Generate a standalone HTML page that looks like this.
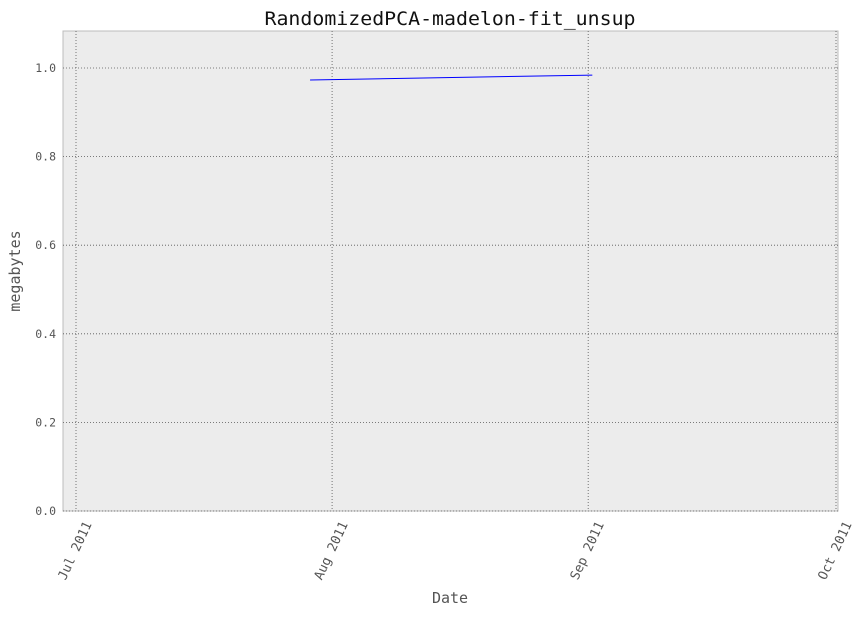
<!DOCTYPE html>
<html><head><meta charset="utf-8"><style>
body{margin:0;background:#fff;}
text{font-family:"DejaVu Sans Mono","Liberation Mono",monospace;}
</style></head><body>
<svg id="chart" width="861" height="613" xmlns="http://www.w3.org/2000/svg"></svg>
<script>
const dates = ["2011-07-29T08:00", "2011-09-01T12:00"];
const values = [0.973, 0.984];
const yTicks = [0.0, 0.2, 0.4, 0.6, 0.8, 1.0];
const xTickDates = ["2011-07-01", "2011-08-01", "2011-09-01", "2011-10-01"];
const xTickLabels = ["Jul 2011", "Aug 2011", "Sep 2011", "Oct 2011"];

const L=63,R=838,T=31,B=511;
const yMax=1.0835;
const x0=Date.parse("2011-07-01T00:00Z"), x1=Date.parse("2011-10-01T00:00Z");
const px0=76, px1=836;
function xs(d){return px0+(Date.parse(d+(d.length>10?"Z":"T00:00Z"))-x0)/(x1-x0)*(px1-px0);}
function ys(v){return B-v/yMax*(B-T);}
const svg=document.getElementById('chart');
const NS="http://www.w3.org/2000/svg";
function mk(tag,attrs,parent){const e=document.createElementNS(NS,tag);for(const k in attrs)e.setAttribute(k,attrs[k]);(parent||svg).appendChild(e);return e;}

const bg=mk('rect',{x:L,y:T,width:R-L,height:B-T,fill:'#ececec',stroke:'#bcbcbc','stroke-width':1});



yTicks.forEach(v=>{
  const y=ys(v);
  const g=mk('line',{x1:L,x2:R,y1:y,y2:y,stroke:'#555','stroke-width':0.8,'stroke-dasharray':'1,2'});
  
  
  const t=mk('text',{x:L-7,y:y+4,'text-anchor':'end','font-size':11.5,fill:'#555'});
  t.textContent=v.toFixed(1);
  
  
});
xTickDates.forEach((d,i)=>{
  const x=xs(d);
  const g=mk('line',{x1:x,x2:x,y1:T,y2:B,stroke:'#555','stroke-width':0.8,'stroke-dasharray':'1,2'});
  
  
  const ax=x+16, ay=B+13;
  const t=mk('text',{x:ax,y:ay,'text-anchor':'end','font-size':13,fill:'#555',transform:`rotate(-65 ${ax} ${ay})`});
  t.textContent=xTickLabels[i];
  
  
});
const pts=dates.map((d,i)=>xs(d)+','+ys(values[i])).join(' ');
const line=mk('polyline',{points:pts,fill:'none',stroke:'#0000ff','stroke-width':1});



const title=mk('text',{x:450,y:25,'text-anchor':'middle','font-size':19,fill:'#111',textLength:371,lengthAdjust:'spacingAndGlyphs'});
title.textContent="RandomizedPCA-madelon-fit_unsup";


const xl=mk('text',{x:450,y:603,'text-anchor':'middle','font-size':15,fill:'#555'});
xl.textContent="Date";


const yl=mk('text',{x:20,y:271,'text-anchor':'middle','font-size':15,fill:'#555',transform:'rotate(-90 20 271)'});
yl.textContent="megabytes";


</script>
</body></html>
